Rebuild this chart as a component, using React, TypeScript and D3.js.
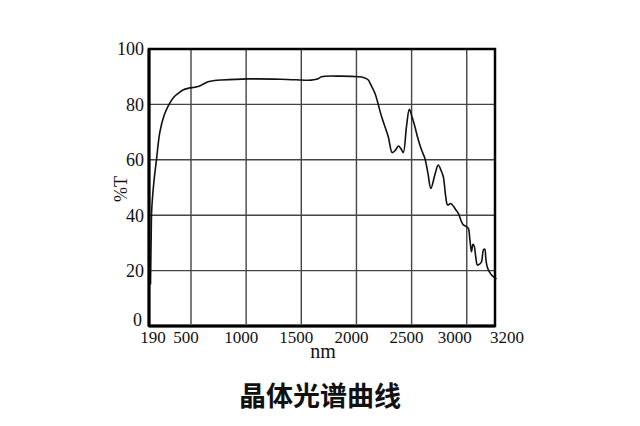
import React from "react";
import * as d3 from "d3";

const wavelengths = [190, 192, 195, 199, 215, 234, 259, 290, 321, 360, 395, 430, 468, 520, 552, 582, 642, 700, 763, 1005, 1300, 1489, 1550, 1600, 1640, 1670, 1850, 2003, 2050, 2094, 2108, 2154, 2214, 2275, 2311, 2340, 2366, 2390, 2411, 2440, 2466, 2490, 2516, 2545, 2577, 2607, 2635, 2661, 2700, 2728, 2755, 2774, 2795, 2813, 2840, 2864, 2890, 2910, 2935, 2955, 2980, 3000, 3012, 3023, 3033, 3042, 3053, 3065, 3080, 3094, 3108, 3117, 3125, 3134, 3150, 3165, 3194, 3200];
const transmittance = [15, 22, 32, 42, 52, 60, 70, 76, 79.5, 82.5, 84, 85.2, 85.8, 86.2, 86.5, 87, 88.2, 88.6, 88.8, 89.2, 89.1, 88.8, 88.7, 88.9, 89.3, 90, 90.2, 90, 89.7, 88.8, 87.8, 84, 75.6, 68.3, 62.6, 63.5, 65, 64, 62.6, 72, 78.2, 75.5, 72, 67.5, 63.5, 60.5, 55, 49.7, 55, 58.1, 56, 53.9, 47, 43.7, 44.2, 43.3, 41.8, 40.7, 38, 36.5, 36, 35.3, 31, 26.8, 29.5, 28.9, 25, 22, 22.3, 23.2, 27.5, 27.7, 24, 21.4, 19.5, 18.4, 17.2, 17];

const xTicks = [190, 500, 1000, 1500, 2000, 2500, 3000, 3200];
const xGrid = [500, 1000, 1500, 2000, 2500, 3000];
const yTicks = [0, 20, 40, 60, 80, 100];
const yGrid = [20, 40, 60, 80];
const xLabelShift: Record<number, number> = { 190: 4, 3000: -12, 3200: 12 };

const title = "晶体光谱曲线";
const xTitle = "nm";
const yTitle = "%T";

export default function App() {
  const W = 640, H = 426;
  const left = 149, right = 495, top = 49, bottom = 326;
  const step = 55.15;
  const x500 = 191;
  const x = d3
    .scaleLinear()
    .domain([190, 500, 3000, 3200])
    .range([left, x500, x500 + 5 * step, right]);
  const y = d3.scaleLinear().domain([0, 100]).range([bottom, top]);

  const pts: [number, number][] = wavelengths.map((w, i) => [w, transmittance[i]]);
  const line = d3
    .line<[number, number]>()
    .x((d) => x(d[0]) + 1.5)
    .y((d) => y(d[1]))
    .curve(d3.curveCatmullRom.alpha(0.5));

  const serif = "'Liberation Serif', 'DejaVu Serif', serif";

  return (
    <svg
      width={W}
      height={H}
      style={{ position: "absolute", left: 0, top: 0, background: "#fff" }}
    >
      <rect x={0} y={0} width={W} height={H} fill="#fff" />
      {yGrid.map((v) => (
        <line key={"hy" + v} x1={left} x2={right} y1={y(v)} y2={y(v)} stroke="#444" strokeWidth={1.4} />
      ))}
      {xGrid.map((v) => (
        <line key={"gx" + v} x1={x(v)} x2={x(v)} y1={top} y2={bottom - 2} stroke="#444" strokeWidth={1.4} />
      ))}
      <path d={line(pts) || ""} fill="none" stroke="#111" strokeWidth={1.6} strokeLinejoin="round" />
      <rect x={left} y={top} width={right - left} height={bottom - top} fill="none" stroke="#000" strokeWidth={2.5} />
      <line x1={left} x2={left} y1={top} y2={bottom} stroke="#000" strokeWidth={3} />
      <line x1={left} x2={right} y1={bottom} y2={bottom} stroke="#000" strokeWidth={3} />
      {yTicks.map((v) => (
        <text key={"ty" + v} x={left - (v === 0 ? 7 : 5)} y={y(v) - (v === 0 ? 6 : 0)} dy="0.35em" textAnchor="end" fontFamily={serif} fontSize={18} fill="#111">
          {v}
        </text>
      ))}
      {xTicks.map((v) => (
        <text key={"tx" + v} x={x(v) + (xLabelShift[v] ?? -5)} y={bottom + 17} textAnchor="middle" fontFamily={serif} fontSize={17} fill="#111">
          {v}
        </text>
      ))}
      <text x={323} y={358} textAnchor="middle" fontFamily={serif} fontSize={20} fill="#111">
        {xTitle}
      </text>
      <text transform={`translate(127, 189) rotate(-90)`} textAnchor="middle" fontFamily={serif} fontSize={18} fill="#111">
        {yTitle}
      </text>
      <text x={320} y={406} textAnchor="middle" fontFamily="'Noto Sans CJK SC', sans-serif" fontWeight="bold" fontSize={27} fill="#111">
        {title}
      </text>
    </svg>
  );
}
